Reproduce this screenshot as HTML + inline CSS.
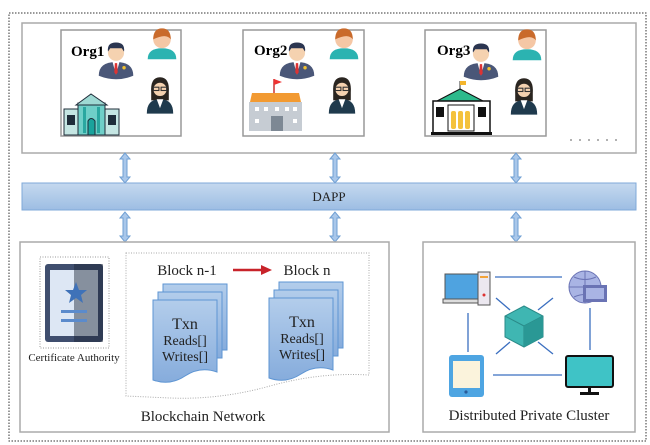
<!DOCTYPE html>
<html><head><meta charset="utf-8"><style>
html,body{margin:0;padding:0;background:#fff;}
svg{display:block;font-family:"Liberation Serif",serif;}
</style></head><body>
<svg width="650" height="445" viewBox="0 0 650 445" xmlns="http://www.w3.org/2000/svg">
<defs>
<linearGradient id="dapp" x1="0" y1="0" x2="0" y2="1"><stop offset="0" stop-color="#c5d9ef"/><stop offset="1" stop-color="#9dbde3"/></linearGradient>
<linearGradient id="doc" x1="0" y1="0" x2="0" y2="1"><stop offset="0" stop-color="#b3cdeb"/><stop offset="1" stop-color="#86acdc"/></linearGradient>
<g id="arr"><path d="M0,-15 L-5,-9 L-2,-9 L-2,9 L-5,9 L0,15 L5,9 L2,9 L2,-9 L5,-9 Z" fill="#a9c7ea" stroke="#6f9fd3" stroke-width="1"/></g>
<g id="boss0"><circle cx="0" cy="-8" r="7" fill="#f5d2b0"/><path d="M-7,-9 Q-8,-17 0,-17 Q8,-17 7,-9 L5,-12 L-5,-12Z" fill="#2b3550"/><path d="M-15,12 Q-15,0 0,0 Q15,0 15,12 Q0,18 -15,12Z" fill="#4a5778"/><path d="M-3,0 L3,0 L0,11Z" fill="#fff"/><path d="M-1,1 L1,1 L1.5,9 L0,11 L-1.5,9Z" fill="#d33"/><circle cx="7" cy="5" r="1.5" fill="#f2c230"/></g>
<g id="boss"><use href="#boss0" transform="scale(1.15)"/></g>
<g id="man0"><path d="M-13,12 Q-13,2 0,2 Q13,2 13,12Z" fill="#2bb3b1"/><circle cx="0" cy="-6" r="8" fill="#f5c7a5"/><path d="M-8,-6 Q-8,-16 0,-16 Q8,-16 8,-6 Q4,-12 -8,-6Z" fill="#c96a2b"/></g>
<g id="man"><use href="#man0" transform="scale(1.1)"/></g>
<g id="wom0"><path d="M-8,-3 Q-9,-17 0,-17 Q9,-17 8,-3 L8,4 L-8,4Z" fill="#2a2520"/><circle cx="0" cy="-6" r="6" fill="#f5d2b0"/><rect x="-6" y="-8" width="5" height="3" fill="none" stroke="#333" stroke-width="1"/><rect x="1" y="-8" width="5" height="3" fill="none" stroke="#333" stroke-width="1"/><path d="M-12,16 Q-12,3 0,3 Q12,3 12,16Z" fill="#1f3a4d"/><path d="M-3,3 L3,3 L0,11Z" fill="#fff"/></g>
<g id="wom"><use href="#wom0" transform="scale(1.1)"/></g>
</defs>
<rect x="9" y="13" width="637" height="428" fill="none" stroke="#333" stroke-width="1" stroke-dasharray="1.5,1.5"/>
<rect x="22" y="23" width="614" height="130" fill="#fff" stroke="#aaa" stroke-width="1.5"/>
<g>
<rect x="61" y="30" width="120" height="106" fill="#fff" stroke="#999" stroke-width="1.5"/>
<text x="71" y="56" font-size="15" font-weight="bold">Org1</text>
<use href="#boss" x="116" y="62"/><use href="#man" x="162" y="46"/><use href="#wom" x="160" y="96"/>
<g transform="translate(64,97)"><rect x="0" y="12" width="55" height="26" fill="#c5e6e3" stroke="#1f2d3a"/><rect x="14" y="6" width="27" height="32" fill="#6fcfc8" stroke="#1f2d3a"/><path d="M12,8 L27,-3 L43,8Z" fill="#9ed9d3" stroke="#1f2d3a"/><rect x="19" y="10" width="3" height="26" fill="#2aa7a0"/><rect x="33" y="10" width="3" height="26" fill="#2aa7a0"/><path d="M24,38 L24,24 Q27,19 31,24 L31,38Z" fill="#1aa39c" stroke="#1f2d3a"/><rect x="3" y="18" width="8" height="10" fill="#1f2d3a"/><rect x="44" y="18" width="8" height="10" fill="#1f2d3a"/></g>
</g>
<g>
<rect x="243" y="30" width="121" height="106" fill="#fff" stroke="#999" stroke-width="1.5"/>
<text x="254" y="55" font-size="15" font-weight="bold">Org2</text>
<use href="#boss" x="297" y="62"/><use href="#man" x="344" y="46"/><use href="#wom" x="342" y="96"/>
<g transform="translate(249,79)"><line x1="25" y1="0" x2="25" y2="14" stroke="#c33" stroke-width="1.5"/><path d="M25,0 L33,3 L25,6Z" fill="#e33"/><path d="M3,14 L50,14 L52,23 L1,23Z" fill="#f29a32"/><rect x="0" y="23" width="53" height="29" fill="#c6ccd3"/><rect x="22" y="37" width="12" height="15" fill="#7d8894"/><g fill="#fff"><rect x="6" y="28" width="4" height="4"/><rect x="15" y="28" width="4" height="4"/><rect x="26" y="28" width="4" height="4"/><rect x="36" y="28" width="4" height="4"/><rect x="44" y="28" width="4" height="4"/><rect x="6" y="40" width="4" height="4"/><rect x="44" y="40" width="4" height="4"/></g></g>
</g>
<g>
<rect x="425" y="30" width="121" height="106" fill="#fff" stroke="#999" stroke-width="1.5"/>
<text x="437" y="55" font-size="15" font-weight="bold">Org3</text>
<use href="#boss" x="481" y="63"/><use href="#man" x="527" y="47"/><use href="#wom" x="524" y="97"/>
<g transform="translate(433,81)"><line x1="27" y1="0" x2="27" y2="10" stroke="#333"/><rect x="27" y="0" width="6" height="4" fill="#f4b52c"/><path d="M4,20 L27,8 L50,20Z" fill="#2dba8c" stroke="#111"/><rect x="0" y="20" width="57" height="32" fill="#fff" stroke="#111" stroke-width="1.5"/><rect x="15" y="24" width="26" height="26" fill="#fff" stroke="#111"/><rect x="18" y="30" width="5" height="18" rx="2" fill="#f4c23c"/><rect x="25" y="30" width="5" height="18" rx="2" fill="#f4c23c"/><rect x="32" y="30" width="5" height="18" rx="2" fill="#f4c23c"/><rect x="3" y="26" width="8" height="10" fill="#111"/><rect x="45" y="26" width="8" height="10" fill="#111"/><rect x="-2" y="51" width="61" height="3" fill="#111"/></g>
</g>
<g fill="#999"><circle cx="571" cy="140" r="1"/><circle cx="580" cy="140" r="1"/><circle cx="589" cy="140" r="1"/><circle cx="598" cy="140" r="1"/><circle cx="607" cy="140" r="1"/><circle cx="616" cy="140" r="1"/></g>
<use href="#arr" x="125" y="168"/><use href="#arr" x="335" y="168"/><use href="#arr" x="516" y="168"/>
<rect x="22" y="183" width="614" height="27" fill="url(#dapp)" stroke="#7fa9d8"/>
<text x="329" y="201" font-size="13" text-anchor="middle" fill="#222">DAPP</text>
<use href="#arr" x="125" y="227"/><use href="#arr" x="335" y="227"/><use href="#arr" x="516" y="227"/>
<rect x="20" y="242" width="369" height="190" fill="#fff" stroke="#aaa" stroke-width="1.5"/>
<rect x="40" y="257" width="69" height="91" fill="none" stroke="#999" stroke-dasharray="1,1.5"/>
<rect x="45" y="264" width="58" height="78" rx="3" fill="#3f4e6e"/>
<rect x="50" y="270" width="48" height="66" fill="#dde7f4"/>
<rect x="74" y="264" width="29" height="78" fill="#1c2535" opacity="0.45"/>
<path d="M76,282 L79,290 L87,290 L81,295 L83,303 L76,298 L69,303 L71,295 L65,290 L73,290Z" fill="#3f72b8"/>
<rect x="61" y="310" width="26" height="3" fill="#5b8bcc"/><rect x="61" y="319" width="26" height="3" fill="#5b8bcc"/>
<text x="74" y="361" font-size="11" text-anchor="middle" fill="#222">Certificate Authority</text>
<path d="M126,253 L369,253 L369,375 Q320,372 270,386 Q220,400 170,398 L126,396Z" fill="none" stroke="#aaa" stroke-dasharray="1,1.5"/>
<text x="187" y="275" font-size="15" text-anchor="middle" fill="#222">Block n-1</text>
<text x="307" y="275" font-size="15" text-anchor="middle" fill="#222">Block n</text>
<line x1="233" y1="270" x2="262" y2="270" stroke="#c8232a" stroke-width="2.5"/><path d="M261,265 L272,270 L261,275Z" fill="#c8232a"/>
<g stroke="#5e95d3" stroke-width="1" fill="url(#doc)">
<rect x="163" y="284" width="64" height="66"/><rect x="158" y="292" width="64" height="66"/>
<path d="M153,300 L217,300 L217,372 Q200,366 185,376 Q170,386 153,380Z"/>
<rect x="279" y="282" width="64" height="66"/><rect x="274" y="290" width="64" height="66"/>
<path d="M269,298 L333,298 L333,370 Q316,364 301,374 Q286,384 269,378Z"/>
</g>
<g font-size="14" text-anchor="middle" fill="#222">
<text x="185" y="329" font-size="16">Txn</text><text x="185" y="345">Reads[]</text><text x="185" y="361">Writes[]</text>
<text x="302" y="327" font-size="16">Txn</text><text x="302" y="343">Reads[]</text><text x="302" y="359">Writes[]</text>
</g>
<text x="203" y="421" font-size="15" text-anchor="middle" fill="#222">Blockchain Network</text>
<rect x="423" y="242" width="212" height="190" fill="#fff" stroke="#aaa" stroke-width="1.5"/>
<g stroke="#3b6fc0" stroke-width="1.3">
<line x1="495" y1="277" x2="562" y2="277"/><line x1="468" y1="313" x2="468" y2="352"/><line x1="590" y1="308" x2="590" y2="350"/><line x1="493" y1="375" x2="562" y2="375"/>
<line x1="496" y1="298" x2="510" y2="310"/><line x1="553" y1="298" x2="538" y2="310"/><line x1="496" y1="354" x2="510" y2="342"/><line x1="553" y1="354" x2="538" y2="342"/>
</g>
<g><rect x="445" y="274" width="35" height="25" fill="#4fa3e0" stroke="#555"/><rect x="443" y="299" width="39" height="4" fill="#ddd" stroke="#555"/><rect x="478" y="272" width="12" height="33" fill="#ece8f0" stroke="#555"/><rect x="480" y="276" width="8" height="2" fill="#f2a33a"/><circle cx="484" cy="295" r="1.5" fill="#d33"/></g>
<g><circle cx="585" cy="287" r="16" fill="#a9b4e4" stroke="#6a73b4"/><path d="M569,287 L601,287 M585,271 L585,303 M574,277 Q585,282 596,277 M574,297 Q585,292 596,297" stroke="#6a73b4" fill="none"/><rect x="583" y="285" width="24" height="17" fill="#6a73b4"/><rect x="586" y="288" width="18" height="11" fill="#a9b4e4"/></g>
<g><path d="M524,306 L543,316 L543,337 L524,347 L505,337 L505,316Z" fill="#3fb6b2" stroke="#2a8a88"/><path d="M505,316 L524,326 L543,316 M524,326 L524,347" stroke="#2a8a88" fill="none"/><path d="M524,326 L543,316 L543,337 L524,347Z" fill="#2a9895"/></g>
<g><rect x="449" y="355" width="35" height="42" rx="3" fill="#4ea5e2"/><rect x="453" y="361" width="27" height="27" fill="#fbf3dc"/><circle cx="466" cy="392" r="1.6" fill="#2a5c9a"/></g>
<g><rect x="566" y="356" width="47" height="31" rx="2" fill="#3fc3c6" stroke="#111" stroke-width="2"/><rect x="588" y="387" width="3" height="6" fill="#111"/><rect x="580" y="392" width="19" height="3" fill="#111"/></g>
<text x="529" y="420" font-size="15" text-anchor="middle" fill="#222">Distributed Private Cluster</text>
</svg>
</body></html>
